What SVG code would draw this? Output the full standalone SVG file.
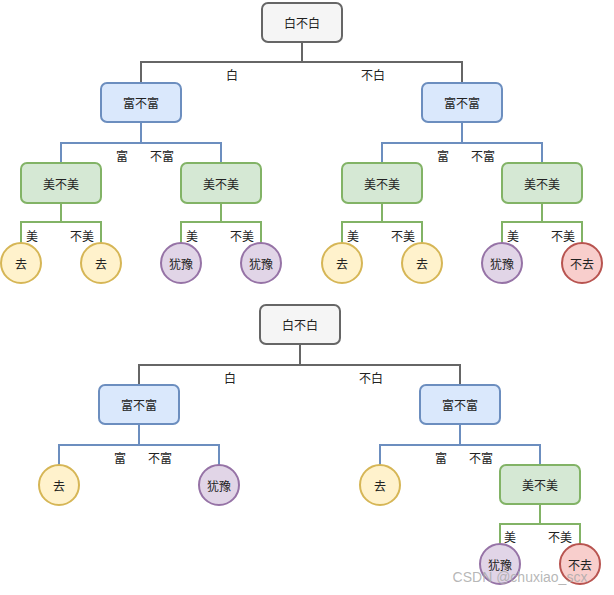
<svg xmlns="http://www.w3.org/2000/svg" width="614" height="595" viewBox="0 0 614 595">
<style>
text{font-family:"Noto Sans CJK SC","Liberation Sans",sans-serif;font-size:12px;fill:#222;text-anchor:middle;dominant-baseline:central}
.g{fill:#f5f5f5;stroke:#666;stroke-width:2}
.b{fill:#dae8fc;stroke:#6c8ebf;stroke-width:2}
.gr{fill:#d5e8d4;stroke:#82b366;stroke-width:2}
.y{fill:#fff2cc;stroke:#d6b656;stroke-width:2}
.p{fill:#e1d5e7;stroke:#9673a6;stroke-width:2}
.r{fill:#f8cecc;stroke:#b85450;stroke-width:2}
.lg{fill:none;stroke:#666;stroke-width:2}
.lb{fill:none;stroke:#6c8ebf;stroke-width:2}
.lgr{fill:none;stroke:#82b366;stroke-width:2}
</style>
<rect width="614" height="595" fill="#fff"/>
<g id="connectors">
<path class="lg" d="M302 42V62H141V83M302 62H462V83"/>
<path class="lb" d="M141 122V143H61V163M141 143H221V163M462 122V143H382V163M462 143H542V163"/>
<path class="lgr" d="M61 203V222H21V243M61 222H101V243M221 203V222H181V243M221 222H261V243M382 203V222H342V243M382 222H422V243M542 203V222H502V243M542 222H582V243"/>
<path class="lg" d="M300 344V365H139V385M300 365H460V385"/>
<path class="lb" d="M139 424V445H59V465M139 445H219V465M460 424V445H380V465M460 445H540V465"/>
<path class="lgr" d="M540 504V524H500V544M540 524H580V544"/>
<text x="232" y="74">白</text><text x="373" y="74">不白</text>
<text x="122" y="155">富</text><text x="162" y="155">不富</text>
<text x="443" y="155">富</text><text x="483" y="155">不富</text>
<text x="32" y="235">美</text><text x="82" y="235">不美</text>
<text x="192" y="235">美</text><text x="242" y="235">不美</text>
<text x="353" y="235">美</text><text x="403" y="235">不美</text>
<text x="513" y="235">美</text><text x="563" y="235">不美</text>
<text x="230" y="377">白</text><text x="371" y="377">不白</text>
<text x="120" y="457">富</text><text x="160" y="457">不富</text>
<text x="441" y="457">富</text><text x="481" y="457">不富</text>
<text x="510" y="536">美</text><text x="560" y="536">不美</text>
</g>
<g id="t1root"><rect class="g" x="262" y="3" width="80" height="39" rx="6"/><text x="302" y="22.5">白不白</text></g>
<g id="t1f1"><rect class="b" x="101" y="83" width="80" height="39" rx="6"/><text x="141" y="102.5">富不富</text></g>
<g id="t1f2"><rect class="b" x="422" y="83" width="80" height="39" rx="6"/><text x="462" y="102.5">富不富</text></g>
<g id="t1m1"><rect class="gr" x="21" y="163" width="80" height="40" rx="6"/><text x="61" y="183">美不美</text></g>
<g id="t1m2"><rect class="gr" x="181" y="163" width="80" height="40" rx="6"/><text x="221" y="183">美不美</text></g>
<g id="t1m3"><rect class="gr" x="342" y="163" width="80" height="40" rx="6"/><text x="382" y="183">美不美</text></g>
<g id="t1m4"><rect class="gr" x="502" y="163" width="80" height="40" rx="6"/><text x="542" y="183">美不美</text></g>
<g id="t1l1"><circle class="y" cx="21" cy="263" r="20"/><text x="21" y="263">去</text></g>
<g id="t1l2"><circle class="y" cx="101" cy="263" r="20"/><text x="101" y="263">去</text></g>
<g id="t1l3"><circle class="p" cx="181" cy="263" r="20"/><text x="181" y="263">犹豫</text></g>
<g id="t1l4"><circle class="p" cx="261" cy="263" r="20"/><text x="261" y="263">犹豫</text></g>
<g id="t1l5"><circle class="y" cx="342" cy="263" r="20"/><text x="342" y="263">去</text></g>
<g id="t1l6"><circle class="y" cx="422" cy="263" r="20"/><text x="422" y="263">去</text></g>
<g id="t1l7"><circle class="p" cx="502" cy="263" r="20"/><text x="502" y="263">犹豫</text></g>
<g id="t1l8"><circle class="r" cx="582" cy="263" r="20"/><text x="582" y="263">不去</text></g>
<g id="t2root"><rect class="g" x="260" y="305" width="80" height="39" rx="6"/><text x="300" y="324.5">白不白</text></g>
<g id="t2f1"><rect class="b" x="99" y="385" width="80" height="39" rx="6"/><text x="139" y="404.5">富不富</text></g>
<g id="t2f2"><rect class="b" x="420" y="385" width="80" height="39" rx="6"/><text x="460" y="404.5">富不富</text></g>
<g id="t2l1"><circle class="y" cx="59" cy="485" r="20"/><text x="59" y="485">去</text></g>
<g id="t2l2"><circle class="p" cx="219" cy="485" r="20"/><text x="219" y="485">犹豫</text></g>
<g id="t2l3"><circle class="y" cx="380" cy="485" r="20"/><text x="380" y="485">去</text></g>
<g id="t2m"><rect class="gr" x="500" y="465" width="80" height="39" rx="6"/><text x="540" y="484.5">美不美</text></g>
<g id="t2l4"><circle class="p" cx="500" cy="564" r="20"/><text x="500" y="564">犹豫</text></g>
<g id="t2l5"><circle class="r" cx="580" cy="564" r="20"/><text x="580" y="564">不去</text></g>
<text x="520" y="577" style="font-family:'Liberation Sans',sans-serif;font-size:14px;fill:#aaa;fill-opacity:0.85">CSDN @chuxiao_scx</text>
</svg>
